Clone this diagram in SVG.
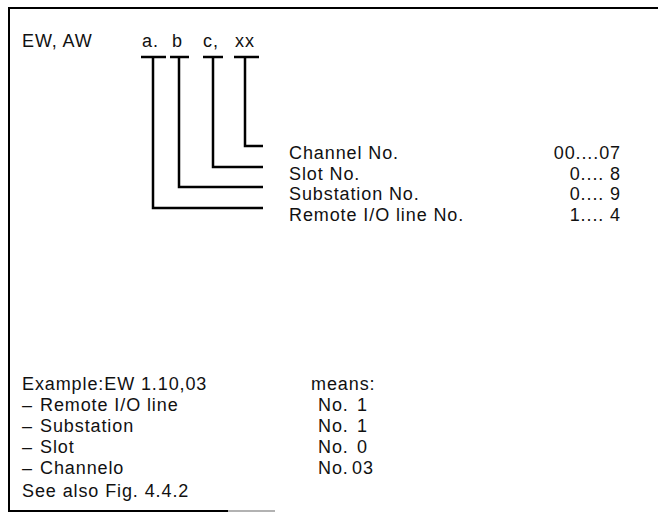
<svg xmlns="http://www.w3.org/2000/svg" width="658" height="527" viewBox="0 0 658 527">
<style>
text{font-family:"Liberation Sans",Arial,sans-serif;font-size:18px;fill:#111;letter-spacing:0.9px}
.c{fill:none;stroke:#000;stroke-width:2.5}
.f{fill:none;stroke:#000;stroke-width:2}
.r{text-anchor:end}
</style>
<rect width="658" height="527" fill="#fff"/>
<g id="frame">
<path class="f" d="M658,8 L9,8 L9,511 L228,511"/>
<path d="M228,511 L275,511" stroke="#999" stroke-width="1.5"/>
</g>
<g id="code"><text y="47"><tspan x="22">EW, AW</tspan><tspan x="142">a.</tspan><tspan x="172">b</tspan><tspan x="203">c,</tspan><tspan x="235">xx</tspan></text></g>
<g id="connectors">
<path class="c" d="M141,57 H166 M153,57 V208 H263"/>
<path class="c" d="M170,57 H189 M179,57 V187 H263"/>
<path class="c" d="M203,57 H223 M213,57 V167 H263"/>
<path class="c" d="M234,57 H259 M245,57 V146 H263"/>
</g>
<g id="channel"><text x="289" y="159">Channel No.</text><text class="r" x="621" y="159">00....07</text></g>
<g id="slot"><text x="289" y="180">Slot No.</text><text class="r" x="621" y="180">0.... 8</text></g>
<g id="substation"><text x="289" y="200">Substation No.</text><text class="r" x="621" y="200">0.... 9</text></g>
<g id="remote"><text x="289" y="221">Remote I/O line No.</text><text class="r" x="621" y="221">1.... 4</text></g>
<g id="example">
<text x="22" y="390">Example:EW 1.10,03</text><text x="311" y="390">means:</text>
<text y="411"><tspan x="22">–</tspan><tspan x="40">Remote I/O line</tspan></text><text y="411"><tspan x="318">No.</tspan><tspan x="357">1</tspan></text>
<text y="432"><tspan x="22">–</tspan><tspan x="40">Substation</tspan></text><text y="432"><tspan x="318">No.</tspan><tspan x="357">1</tspan></text>
<text y="453"><tspan x="22">–</tspan><tspan x="40">Slot</tspan></text><text y="453"><tspan x="318">No.</tspan><tspan x="357">0</tspan></text>
<text y="474"><tspan x="22">–</tspan><tspan x="40">Channelo</tspan></text><text y="474"><tspan x="318">No.</tspan><tspan x="352">03</tspan></text>
<text x="22" y="497">See also Fig. 4.4.2</text>
</g>
</svg>
